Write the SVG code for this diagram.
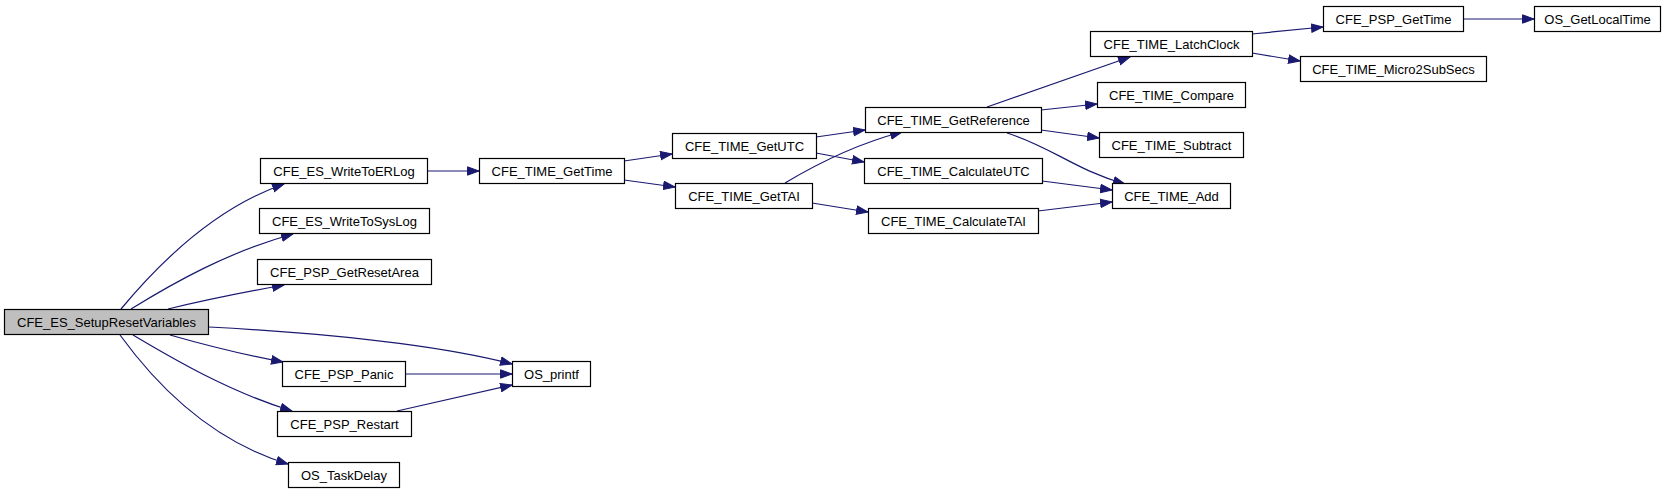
<svg xmlns="http://www.w3.org/2000/svg" width="1669" height="493" viewBox="0 0 1669 493">
<style>
.n rect{fill:#ffffff;stroke:#000000;stroke-width:1.2}
.n.root rect{fill:#bfbfbf}
.n text{font-family:"Liberation Sans",Arial,sans-serif;font-size:13px;fill:#000000;text-anchor:middle}
.e path{fill:none;stroke:#191970;stroke-width:1.2;marker-end:url(#ah)}
</style>
<defs>
<marker id="ah" markerUnits="userSpaceOnUse" markerWidth="13" markerHeight="10" refX="12" refY="5" orient="auto">
<path d="M0.5,0.8 L12,5 L0.5,9.2 z" fill="#191970" stroke="#191970" stroke-width="1"/>
</marker>
</defs>
<rect width="1669" height="493" fill="#ffffff"/>
<g id="edges" class="e">
<path d="M121,309 C160,262 215,208 284,184"/>
<path d="M131,309 C175,282 228,252 293,234"/>
<path d="M168,309 C205,300 245,292 284,285"/>
<path d="M209,327 C320,333 430,343 512,364"/>
<path d="M170,335 C205,345 245,355 283,362"/>
<path d="M133,335 C175,360 230,392 292,411"/>
<path d="M120,335 C160,390 215,442 288,464"/>
<path d="M405,374 L512,374"/>
<path d="M397,411 L512,385"/>
<path d="M427,171 L479,171"/>
<path d="M624,161 L672,154"/>
<path d="M624,180 L675,187"/>
<path d="M816,137 L865,130"/>
<path d="M816,153 L864,162"/>
<path d="M785,183 C820,162 860,143 902,132"/>
<path d="M812,203 L868,212"/>
<path d="M987,107 L1130,57"/>
<path d="M1041,110 L1097,104"/>
<path d="M1041,130 L1099,138"/>
<path d="M1007,133 C1050,146 1075,170 1125,184"/>
<path d="M1042,181 L1112,190"/>
<path d="M1038,211 L1112,202"/>
<path d="M1252,34 L1323,27"/>
<path d="M1252,53 L1300,61"/>
<path d="M1463,19 L1534,19"/>
</g>
<g id="node_CFE_ES_SetupResetVariables" class="n root"><rect x="4.5" y="309.5" width="204" height="25"/><text x="106.5" y="327">CFE_ES_SetupResetVariables</text></g>
<g id="node_CFE_ES_WriteToERLog" class="n"><rect x="260.5" y="158.5" width="167" height="25"/><text x="344" y="176">CFE_ES_WriteToERLog</text></g>
<g id="node_CFE_ES_WriteToSysLog" class="n"><rect x="259.5" y="208.5" width="170" height="25"/><text x="344.5" y="226">CFE_ES_WriteToSysLog</text></g>
<g id="node_CFE_PSP_GetResetArea" class="n"><rect x="257.5" y="259.5" width="174" height="25"/><text x="344.5" y="277">CFE_PSP_GetResetArea</text></g>
<g id="node_CFE_PSP_Panic" class="n"><rect x="282.5" y="361.5" width="123" height="25"/><text x="344" y="379">CFE_PSP_Panic</text></g>
<g id="node_OS_printf" class="n"><rect x="512.5" y="361.5" width="78" height="25"/><text x="551.5" y="379">OS_printf</text></g>
<g id="node_CFE_PSP_Restart" class="n"><rect x="277.5" y="411.5" width="134" height="25"/><text x="344.5" y="429">CFE_PSP_Restart</text></g>
<g id="node_OS_TaskDelay" class="n"><rect x="288.5" y="462.5" width="111" height="25"/><text x="344" y="480">OS_TaskDelay</text></g>
<g id="node_CFE_TIME_GetTime" class="n"><rect x="479.5" y="158.5" width="145" height="25"/><text x="552" y="176">CFE_TIME_GetTime</text></g>
<g id="node_CFE_TIME_GetUTC" class="n"><rect x="672.5" y="133.5" width="144" height="25"/><text x="744.5" y="151">CFE_TIME_GetUTC</text></g>
<g id="node_CFE_TIME_GetTAI" class="n"><rect x="675.5" y="183.5" width="137" height="25"/><text x="744" y="201">CFE_TIME_GetTAI</text></g>
<g id="node_CFE_TIME_GetReference" class="n"><rect x="865.5" y="107.5" width="176" height="25"/><text x="953.5" y="125">CFE_TIME_GetReference</text></g>
<g id="node_CFE_TIME_CalculateUTC" class="n"><rect x="864.5" y="158.5" width="178" height="25"/><text x="953.5" y="176">CFE_TIME_CalculateUTC</text></g>
<g id="node_CFE_TIME_CalculateTAI" class="n"><rect x="868.5" y="208.5" width="170" height="25"/><text x="953.5" y="226">CFE_TIME_CalculateTAI</text></g>
<g id="node_CFE_TIME_LatchClock" class="n"><rect x="1090.5" y="31.5" width="162" height="25"/><text x="1171.5" y="49">CFE_TIME_LatchClock</text></g>
<g id="node_CFE_TIME_Compare" class="n"><rect x="1097.5" y="82.5" width="148" height="25"/><text x="1171.5" y="100">CFE_TIME_Compare</text></g>
<g id="node_CFE_TIME_Subtract" class="n"><rect x="1099.5" y="132.5" width="144" height="25"/><text x="1171.5" y="150">CFE_TIME_Subtract</text></g>
<g id="node_CFE_TIME_Add" class="n"><rect x="1112.5" y="183.5" width="118" height="25"/><text x="1171.5" y="201">CFE_TIME_Add</text></g>
<g id="node_CFE_PSP_GetTime" class="n"><rect x="1323.5" y="6.5" width="140" height="25"/><text x="1393.5" y="24">CFE_PSP_GetTime</text></g>
<g id="node_CFE_TIME_Micro2SubSecs" class="n"><rect x="1300.5" y="56.5" width="186" height="25"/><text x="1393.5" y="74">CFE_TIME_Micro2SubSecs</text></g>
<g id="node_OS_GetLocalTime" class="n"><rect x="1534.5" y="6.5" width="126" height="25"/><text x="1597.5" y="24">OS_GetLocalTime</text></g>
</svg>
